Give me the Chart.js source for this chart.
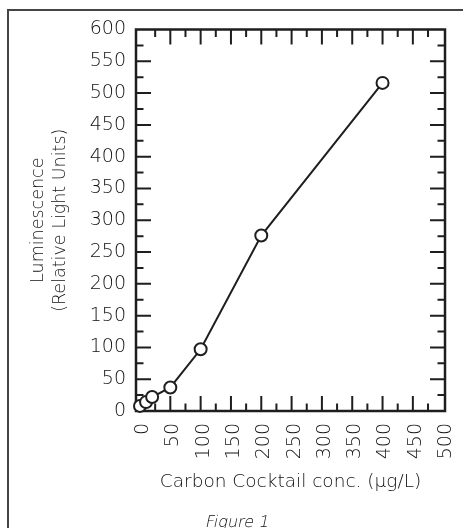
<!DOCTYPE html>
<html><head><meta charset="utf-8">
<script src="https://cdn.jsdelivr.net/npm/chart.js@4"></script>
<style>
html,body{margin:0;padding:0;background:#fff;overflow:hidden;width:463px;height:528px;}
#frame{position:absolute;left:7px;top:9px;width:600px;height:700px;border:2px solid #444;box-sizing:border-box;}
#cap{position:absolute;left:0;width:475px;text-align:center;top:512px;line-height:16px;}
#cap span{display:inline-block;font:200 16px "DejaVu Sans";color:#111;transform:skewX(-12deg);}
</style></head>
<body>
<div id="frame"></div>
<canvas id="c" width="463" height="528" style="position:absolute;left:0;top:0"></canvas>
<div id="cap"><span>Figure 1</span></div>
<script>
// Data
const concentrations = [0, 10, 20, 50, 100, 200, 400];   // µg/L
const luminescence   = [8, 14, 22, 37, 97, 276, 516];    // RLU
const xTickLabels = [0, 50, 100, 150, 200, 250, 300, 350, 400, 450, 500];
const yTickLabels = [0, 50, 100, 150, 200, 250, 300, 350, 400, 450, 500, 550, 600];
const xTickMarks = [25, 50, 75, 100, 125, 150, 175, 200, 225, 250, 275, 300, 325, 350, 375, 400, 425, 450, 475];
const yTickMarks = [25, 50, 75, 100, 125, 150, 175, 200, 225, 250, 275, 300, 325, 350, 375, 400, 425, 450, 475, 500, 525, 550, 575];

const TEXT = '#111';
const INK = '#1e1e1e';
const FONT = 'DejaVu Sans';
const WEIGHT = 200;

const frameTicks = {
  id: 'frameTicks',
  beforeDatasetsDraw(chart) {
    const {ctx, chartArea: a, scales: {x, y}} = chart;
    ctx.save();
    ctx.strokeStyle = INK;
    ctx.lineWidth = 2;
    ctx.beginPath();
    xTickMarks.forEach(v => {
      const len = v % 50 === 0 ? 15 : 7.5;
      const px = x.getPixelForValue(v);
      ctx.moveTo(px, a.bottom); ctx.lineTo(px, a.bottom - len);
      ctx.moveTo(px, a.top); ctx.lineTo(px, a.top + len);
    });
    yTickMarks.forEach(v => {
      const len = v % 50 === 0 ? 15 : 7.5;
      const py = y.getPixelForValue(v);
      ctx.moveTo(a.left, py); ctx.lineTo(a.left + len, py);
      ctx.moveTo(a.right, py); ctx.lineTo(a.right - len, py);
    });
    ctx.stroke();
    ctx.lineWidth = 2.5;
    ctx.strokeRect(a.left, a.top, a.right - a.left, a.bottom - a.top);
    ctx.restore();
  }
};

const noPad = s => { s.paddingLeft = 0; s.paddingRight = 0; s.paddingTop = 0; s.paddingBottom = 0; };

new Chart(document.getElementById('c'), {
  type: 'scatter',
  data: {
    datasets: [{
      data: concentrations.map((c, i) => ({x: c, y: luminescence[i]})),
      showLine: true,
      borderColor: INK,
      borderWidth: 2,
      pointRadius: 6,
      pointHoverRadius: 6,
      pointBackgroundColor: '#fff',
      pointBorderColor: INK,
      pointBorderWidth: 2,
      clip: false,
      tension: 0
    }]
  },
  options: {
    responsive: false,
    animation: false,
    devicePixelRatio: 1,
    events: [],
    layout: {padding: {left: 0, right: 18, top: 29.5, bottom: 35}},
    plugins: {legend: {display: false}, tooltip: {enabled: false}},
    scales: {
      x: {
        type: 'linear', min: -6.6, max: 503,
        grid: {display: false, drawTicks: false},
        border: {display: false},
        afterBuildTicks: s => { s.ticks = xTickLabels.map(v => ({value: v})); },
        afterFit: s => { s.height = 82; noPad(s); },
        ticks: {minRotation: 90, maxRotation: 90, autoSkip: false, padding: 12, labelOffset: 3,
                font: {family: FONT, size: 19, weight: WEIGHT}, color: TEXT},
        title: {display: true, text: 'Carbon Cocktail conc. (µg/L)',
                font: {family: FONT, size: 18.5, weight: WEIGHT, lineHeight: '22px'}, color: TEXT, padding: 0}
      },
      y: {
        type: 'linear', min: 0, max: 600,
        grid: {display: false, drawTicks: false},
        border: {display: false},
        afterBuildTicks: s => { s.ticks = yTickLabels.map(v => ({value: v})); },
        afterFit: s => { s.width = 136; noPad(s); },
        ticks: {padding: 10, autoSkip: false, font: {family: FONT, size: 19, weight: WEIGHT}, color: TEXT},
        title: {display: true, text: ['Luminescence', '(Relative Light Units)'],
                font: {family: FONT, size: 17.5, weight: WEIGHT, lineHeight: '22.5px'}, color: TEXT,
                padding: {top: 26.75, bottom: 0}}
      }
    }
  },
  plugins: [frameTicks]
});
</script>
</body></html>
